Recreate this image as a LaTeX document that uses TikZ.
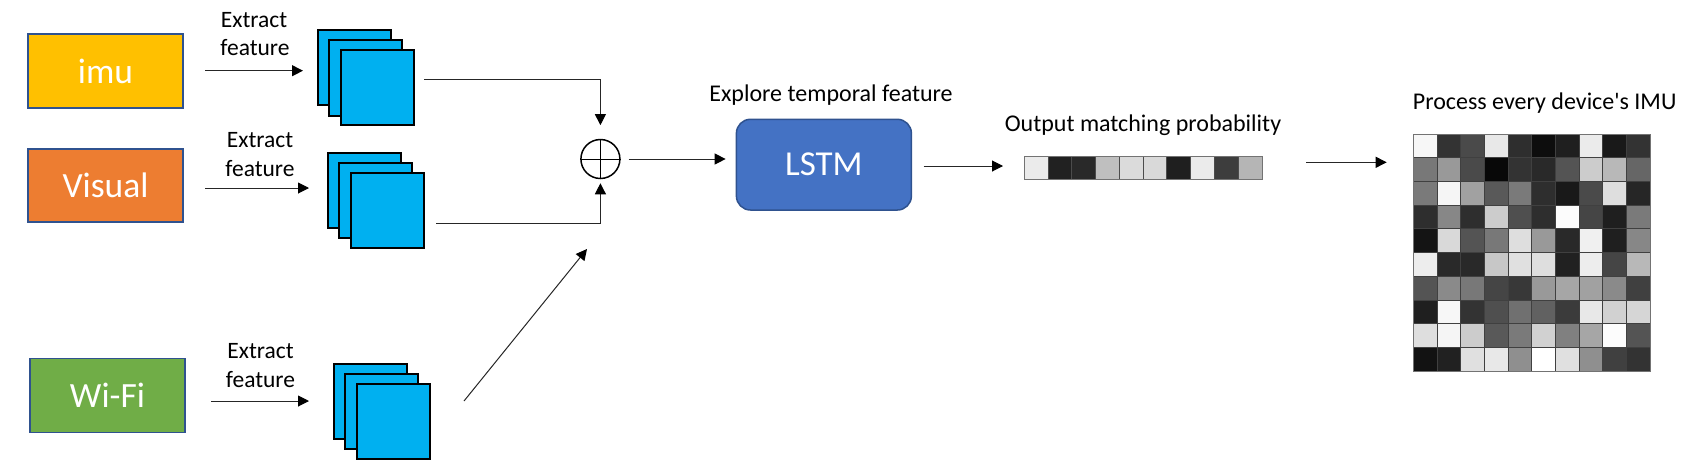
\documentclass[tikz,border=0pt]{standalone}
\usepackage{fontspec}
\setmainfont{Carlito}
\usetikzlibrary{arrows.meta}
\definecolor{cimu}{HTML}{FFC000}
\definecolor{cvis}{HTML}{ED7D31}
\definecolor{cwifi}{HTML}{70AD47}
\definecolor{clstm}{HTML}{4472C4}
\definecolor{cedge}{HTML}{2F528F}
\definecolor{cfeat}{HTML}{00B0F0}
\tikzset{
  srcbox/.style={draw=cedge, line width=1.5pt, minimum width=155pt, minimum height=73pt, inner sep=0pt, text=white, font=\fontsize{35.5}{40}\selectfont},
  featsq/.style={draw=black, line width=2pt, fill=cfeat, minimum width=73.5pt, minimum height=75.5pt, inner sep=0pt, anchor=north west},
  lbl/.style={font=\fontsize{23.5}{28}\selectfont, inner sep=0pt, anchor=base},
  arr/.style={-{Triangle[length=11pt,width=11pt,color=black]}, line width=1pt, draw=black!85}
}
\begin{document}
\begin{tikzpicture}[x=1pt,y=-1pt]
\useasboundingbox (0,0) rectangle (1694,475);

% source boxes
\node[srcbox, fill=cimu, minimum height=74pt] (imu) at (105.5,71) {imu};
\node[srcbox, fill=cvis] (vis) at (105.5,185.3) {Visual};
\node[srcbox, fill=cwifi, minimum height=74pt] (wifi) at (107.5,395.3) {Wi-Fi};

% labels
\node[lbl] (ia) at (254,27.3) {Extract};
\node[lbl] (ib) at (255,55) {feature};
\node[lbl] (va) at (260,147.3) {Extract};
\node[lbl] (vb) at (260,176) {feature};
\node[lbl] (wa) at (260.5,358.3) {Extract};
\node[lbl] (wb) at (260.5,387.3) {feature};

% feature stacks
\node[featsq] (i1) at (316.7,28.7) {};
\node[featsq] (i2) at (327.7,39) {};
\node[featsq] (i3) at (339.7,48.7) {};
\node[featsq] (v1) at (326.7,151.7) {};
\node[featsq] (v2) at (337.7,161.7) {};
\node[featsq] (v3) at (349.7,171.7) {};
\node[featsq] (w1) at (332.7,362.7) {};
\node[featsq] (w2) at (343.7,372.7) {};
\node[featsq] (w3) at (355.7,382.7) {};

% input arrows
\coordinate (ia0) at (205,70.7);
\coordinate (va0) at (205,188);
\coordinate (wa0) at (211,401);
\draw[arr, shorten >=13.7pt] (ia0) -- (ia0 -| i1.west);
\draw[arr, shorten >=17.7pt] (va0) -- (va0 -| v1.west);
\draw[arr, shorten >=23.7pt] (wa0) -- (wa0 -| w1.west);

% sum node
\node[circle, draw=black, line width=1.5pt, fill=white, minimum size=39pt, inner sep=0pt] (sum) at (600.4,159) {};
\draw[line width=1pt] (sum.north) -- (sum.south);
\draw[line width=1pt] (sum.west) -- (sum.east);

% connectors to sum
\coordinate (i0) at (424,79.3);
\coordinate (v0) at (436,223.3);
\coordinate (w0) at (464,401);
\coordinate (wt) at (587,249);
\draw[arr, shorten >=13.6pt] (i0) -| (sum.north);
\draw[arr, shorten >=4pt] (v0) -| (sum.south);
\draw[arr] (w0) -- (wt);

% LSTM
\node[draw=cedge, line width=1.5pt, fill=clstm, rounded corners=14pt, minimum width=175pt, minimum height=90.7pt, inner sep=0pt, text=white, font=\fontsize{35}{40}\selectfont] (lstm) at (823.9,164.65) {LSTM};
\node[lbl, font=\fontsize{24}{28}\selectfont] (explore) at (831,101) {Explore temporal feature};
\draw[arr, shorten <=8pt, shorten >=10pt] (sum.east) -- (sum.east -| lstm.west);

% probability bar
\foreach \v [count=\c from 0] in {92,13,16,75,86,85,12,92,24,71}
  \fill[white!\v!black] ({1024.3+\c*23.74},156.3) rectangle ++(23.74,23);
\foreach \c in {1,...,9}
  \draw[black!70, line width=0.7pt] ({1024.3+\c*23.74},156.3) -- ++(0,23);
\node[draw=black!55, line width=0.8pt, minimum width=237.4pt, minimum height=23pt, inner sep=0pt, anchor=north west] (bar) at (1024.3,156.3) {};
\node[lbl, font=\fontsize{24}{28}\selectfont] (outlbl) at (1143,131) {Output matching probability};
\coordinate (l0) at (923.6,166);
\draw[arr, shorten >=21.3pt] (l0) -- (l0 -| bar.west);

% matrix
\foreach \row [count=\r from 0] in {
  {97,20,29,91,18,5,12,92,10,20},
  {47,60,29,3,20,16,33,80,72,40},
  {48,96,63,35,48,18,10,29,87,15},
  {18,53,18,80,31,18,99,27,12,48},
  {8,85,33,47,87,60,16,94,12,53},
  {93,16,16,78,88,87,13,93,27,72},
  {33,54,47,27,22,60,65,63,54,25},
  {12,97,20,31,44,38,23,91,82,84},
  {87,96,80,35,48,82,50,65,99,33},
  {7,13,88,91,56,100,88,56,25,20}} {
  \foreach \v [count=\c from 0] in \row {
    \fill[white!\v!black] ({1413.3+\c*23.67},{134+\r*23.7}) rectangle ++(23.67,23.7);
  }
}
\foreach \c in {1,...,9} {
  \draw[black!75, line width=0.7pt] ({1413.3+\c*23.67},134) -- ++(0,237);
  \draw[black!75, line width=0.7pt] (1413.3,{134+\c*23.7}) -- ++(236.7,0);
}
\node[draw=black!55, line width=0.8pt, minimum width=236.7pt, minimum height=237pt, inner sep=0pt, anchor=north west] (grid) at (1413.3,134) {};
\node[lbl, font=\fontsize{24}{28}\selectfont, anchor=base west] (proclbl) at (1412.7,109.3) {Process every device\textquotesingle s IMU};
\coordinate (b0) at (1306,162.3);
\draw[arr, shorten >=26.6pt] (b0) -- (b0 -| grid.west);
\end{tikzpicture}
\end{document}
